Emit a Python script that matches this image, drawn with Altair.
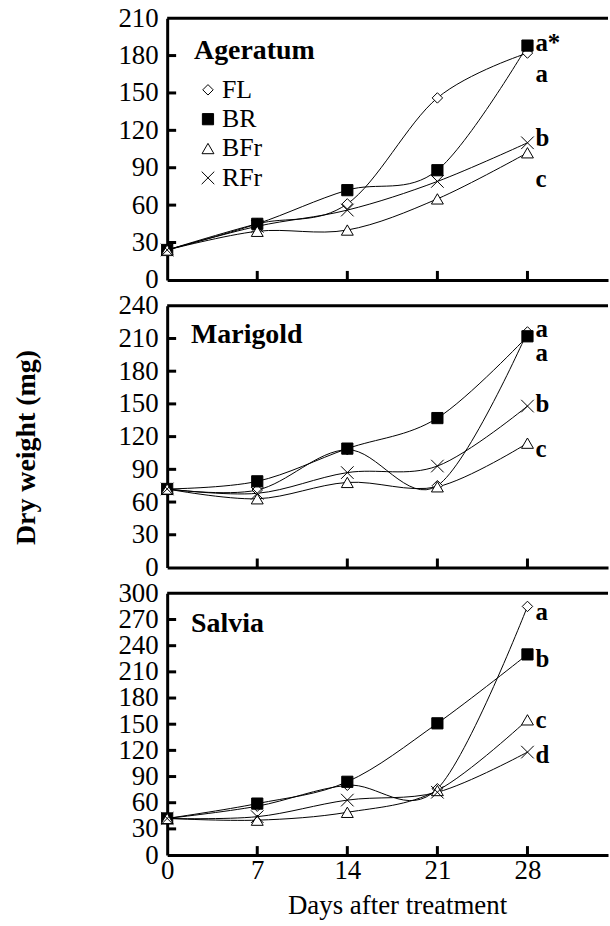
import altair as alt
import pandas as pd

days = [0, 7, 14, 21, 28]
series = ["FL", "BR", "BFr", "RFr"]

ageratum = {
    "FL": [24, 45, 61, 146, 182],
    "BR": [24, 45, 72, 88, 188],
    "BFr": [24, 39, 40, 65, 102],
    "RFr": [24, 43, 56, 79, 110],
}
marigold = {
    "FL": [72, 71, 108, 75, 216],
    "BR": [72, 79, 109, 137, 212],
    "BFr": [72, 63, 78, 74, 114],
    "RFr": [72, 68, 87, 93, 148],
}
salvia = {
    "FL": [42, 56, 80, 76, 285],
    "BR": [42, 59, 84, 151, 230],
    "BFr": [42, 40, 49, 74, 155],
    "RFr": [42, 44, 63, 72, 118],
}

ageratum_letters = ["a*", "a", "b", "c"]
ageratum_letter_y = [190, 165, 114, 81]
marigold_letters = ["a", "a", "b", "c"]
marigold_letter_y = [219, 197, 150, 109]
salvia_letters = ["a", "b", "c", "d"]
salvia_letter_y = [278, 225, 155, 115]

y_max = {"Ageratum": 210, "Marigold": 240, "Salvia": 300}

W, H = 443, 263
XMAX = 34.26
FONT = "Liberation Serif"
XSHAPE = "M-1,-1L1,1M-1,1L1,-1"

shape_scale = alt.Scale(domain=series, range=["diamond", "square", "triangle-up", XSHAPE])
fill_scale = alt.Scale(domain=series, range=["white", "black", "white", "transparent"])
stroke_scale = alt.Scale(domain=series, range=["black", "black", "black", "black"])
size_scale = alt.Scale(domain=series, range=[110, 160, 160, 140])


def panel(name, data, letters, letter_y, legend, bottom, ytitle, name_pos):
    ymax = y_max[name]
    rows = []
    for s in series:
        for d, v in zip(days, data[s]):
            rows.append({"day": d, "w": v, "s": s})
    df = pd.DataFrame(rows)

    if bottom:
        xaxis = alt.Axis(values=days, ticks=False, grid=False, domainWidth=3, domainColor="black",
                         labelFont=FONT, labelFontSize=27, labelColor="black", labelPadding=3,
                         labelFlush=False, labelOverlap=False,
                         title="Days after treatment", titleFont=FONT, titleFontSize=27,
                         titleFontWeight="normal", titleColor="black", titlePadding=9, titleX=231)
    else:
        xaxis = alt.Axis(labels=False, ticks=False, grid=False, domainWidth=3, domainColor="black",
                         title=None)
    yvals = list(range(0, ymax + 1, 30))
    yargs = dict(values=yvals, ticks=False, grid=False, domainWidth=3, domainColor="black",
                 labelFont=FONT, labelFontSize=27, labelColor="black", labelPadding=9,
                 labelOverlap=False, labelBaseline="middle")
    if ytitle:
        yaxis = alt.Axis(title="Dry weight (mg)", titleFont=FONT, titleFontSize=28, titleFontWeight="bold",
                         titleColor="black", titleAngle=270, titleX=-127, titleY=142,
                         titleBaseline="bottom", **yargs)
    else:
        yaxis = alt.Axis(title=None, **yargs)

    X = alt.X("day:Q", scale=alt.Scale(domain=[0, XMAX], nice=False), axis=xaxis)
    Y = alt.Y("w:Q", scale=alt.Scale(domain=[0, ymax], nice=False), axis=yaxis)

    lines = alt.Chart(df).mark_line(interpolate="cardinal", color="black", strokeWidth=1).encode(
        x=X, y=Y, detail="s:N")

    if legend:
        leg = alt.Legend(orient="none", legendX=28, legendY=59, title=None, labelFont=FONT,
                         labelFontSize=26, labelColor="black", rowPadding=3.5, labelOffset=1,
                         padding=0, symbolStrokeWidth=1, symbolOpacity=1)
    else:
        leg = None
    pts = alt.Chart(df).mark_point(opacity=1, strokeWidth=1).encode(
        x=X, y=Y,
        shape=alt.Shape("s:N", scale=shape_scale, legend=leg),
        fill=alt.Fill("s:N", scale=fill_scale, legend=leg),
        stroke=alt.Stroke("s:N", scale=stroke_scale, legend=leg),
        size=alt.Size("s:N", scale=size_scale, legend=leg),
    )

    ldf = pd.DataFrame({"day": [28] * len(letters), "w": letter_y, "t": letters})
    ltext = alt.Chart(ldf).mark_text(align="left", baseline="middle", dx=8, fontSize=25,
                                     fontWeight="bold", font=FONT, color="black").encode(
        x=X, y=Y, text="t:N")

    ytdf = pd.DataFrame({"w": list(range(30, ymax, 30))})
    yticks = alt.Chart(ytdf).mark_rule(color="black", strokeWidth=3).encode(
        y=Y, x=alt.value(0), x2=alt.value(9))
    xtdf = pd.DataFrame({"day": days[1:]})
    xticks = alt.Chart(xtdf).mark_rule(color="black", strokeWidth=3).encode(
        x=X, y=alt.value(H), y2=alt.value(H - 9))

    top = alt.Chart(pd.DataFrame({"n": [name]})).mark_rule(
        color="black", strokeWidth=3, strokeCap="butt").encode(
        x=alt.value(0), x2=alt.value(W), y=alt.value(0))
    title = alt.Chart(pd.DataFrame({"n": [name]})).mark_text(
        align="left", baseline="alphabetic", fontSize=28, fontWeight="bold", font=FONT,
        color="black").encode(x=alt.value(name_pos[0]), y=alt.value(name_pos[1]), text="n:N")

    return alt.layer(yticks, xticks, top, lines, pts, ltext, title).properties(width=W, height=H)


p1 = panel("Ageratum", ageratum, ageratum_letters, ageratum_letter_y, True, False, False, (27, 41))
p2 = panel("Marigold", marigold, marigold_letters, marigold_letter_y, False, False, True, (24, 37))
p3 = panel("Salvia", salvia, salvia_letters, salvia_letter_y, False, True, False, (24, 39))

chart = alt.vconcat(p1, p2, p3, spacing=26, bounds="flush").resolve_legend(
    shape="independent", fill="independent", size="independent", stroke="independent"
).properties(
    padding={"left": 13, "top": 2, "right": 0, "bottom": 0}, background="white"
).configure_view(stroke="transparent", strokeWidth=0)

chart.save("out.html", embed_options={"renderer": "svg", "actions": False})
